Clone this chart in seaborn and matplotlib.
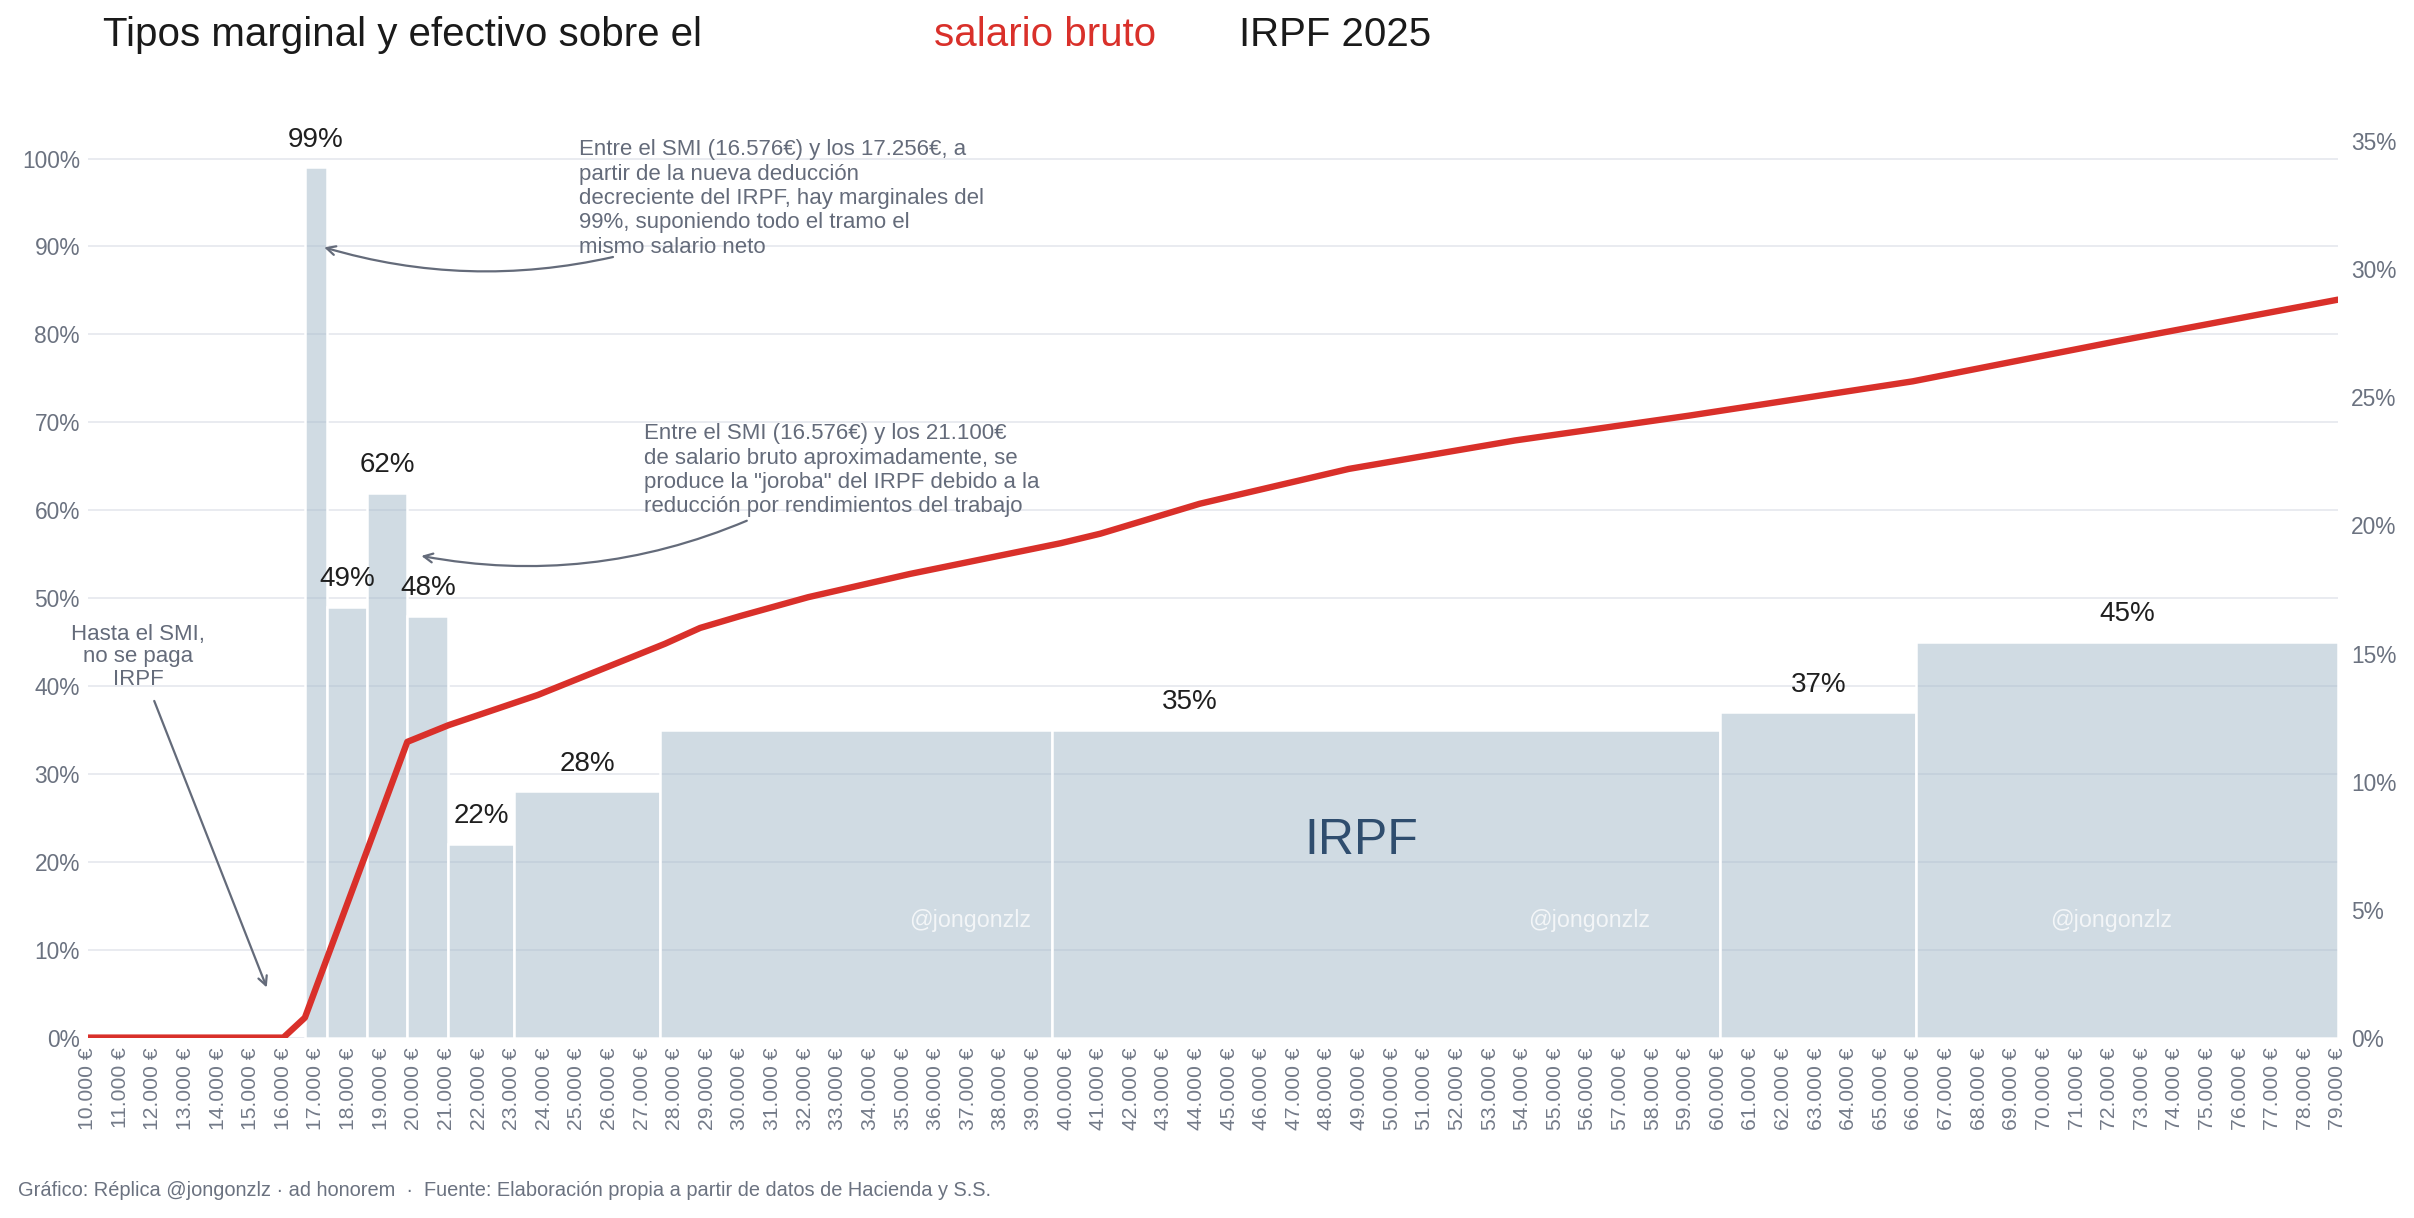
import matplotlib
matplotlib.use("Agg")
import matplotlib.pyplot as plt
import seaborn as sns
import numpy as np

# ---------------- data ----------------
bar_edges = [16664, 17329, 18574, 19801, 21058, 23073, 27550, 39570, 60060, 66070, 79000]
marginal = [0.99, 0.49, 0.62, 0.48, 0.22, 0.28, 0.35, 0.35, 0.37, 0.45]

salary = [10000, 11000, 12000, 13000, 14000, 15000, 16000, 16660, 18570, 19800,
          21060, 23800, 27700, 28780, 30000, 32090, 35220, 39840, 41050, 44100,
          48670, 53760, 59100, 65960, 72320, 79000]
effective = [0.0, 0.0, 0.0, 0.0, 0.0, 0.0, 0.0, 0.0078, 0.0732, 0.1155,
             0.1220, 0.1338, 0.1538, 0.1600, 0.1646, 0.1720, 0.1811, 0.1931, 0.1968, 0.2085,
             0.2221, 0.2332, 0.2429, 0.2563, 0.2722, 0.2882]

xtick_values = list(range(10000, 80000, 1000))
left_ticks = [0.0, 0.1, 0.2, 0.3, 0.4, 0.5, 0.6, 0.7, 0.8, 0.9, 1.0]
right_ticks = [0.0, 0.05, 0.10, 0.15, 0.20, 0.25, 0.30, 0.35]

title_parts = ["Tipos marginal y efectivo sobre el", "salario bruto", "IRPF 2025"]
note_smi = ["Hasta el SMI,", "no se paga", "IRPF"]
note_99 = ("Entre el SMI (16.576€) y los 17.256€, a\npartir de la nueva deducción\n"
           "decreciente del IRPF, hay marginales del\n99%, suponiendo todo el tramo el\n"
           "mismo salario neto")
note_joroba = ("Entre el SMI (16.576€) y los 21.100€\nde salario bruto aproximadamente, se\n"
               "produce la \"joroba\" del IRPF debido a la\nreducción por rendimientos del trabajo")
footer = ("Gráfico: Réplica @jongonzlz · ad honorem  ·  Fuente: Elaboración propia a partir "
          "de datos de Hacienda y S.S.")

# ---------------- style ----------------
sns.set_theme(style="white")
plt.rcParams["font.family"] = ["Liberation Sans", "DejaVu Sans"]

RED = "#d9302a"
GRAY = "#6b7280"
TICKGRAY = "#737a88"
NOTE = "#646b7a"
BAR = "#a3b8c9"
GRID = "#e5e8ed"

fig = plt.figure(figsize=(12.07, 6.09), dpi=200)
ax = fig.add_axes([0.03633, 0.1481, 0.93217, 0.7578])

YTOP = 1.05
RATIO = 0.3433

# bars (variable width) via histplot with weights
mids = [(bar_edges[i] + bar_edges[i + 1]) / 2 for i in range(len(marginal))]
sns.histplot(x=mids, weights=marginal, bins=bar_edges, stat="count", ax=ax,
             color=BAR, alpha=0.5, edgecolor="white", linewidth=0.9, zorder=2)

ax.set_xlim(10000, 79000)
ax.set_ylim(0, YTOP)
ax.set_xlabel("")
ax.set_ylabel("")
ax.set_xticks(xtick_values)
ax.set_xticklabels([f"{v // 1000}.000 €" for v in xtick_values], rotation=90,
                   fontsize=7.6, color=TICKGRAY)
ax.set_yticks(left_ticks)
ax.set_yticklabels([f"{int(round(t * 100))}%" for t in left_ticks], fontsize=8.2, color=GRAY)
ax.tick_params(axis="x", length=0, pad=3.6)
ax.tick_params(axis="y", length=0, pad=2.8)
ax.grid(axis="y", color=GRID, linewidth=0.6, zorder=0)
ax.grid(axis="x", visible=False)
ax.set_axisbelow(True)
for s in ax.spines.values():
    s.set_visible(False)

# bar labels (grouped by consecutive equal rate)
i = 0
while i < len(marginal):
    j = i
    while j + 1 < len(marginal) and marginal[j + 1] == marginal[i]:
        j += 1
    cx = (bar_edges[i] + bar_edges[j + 1]) / 2
    ax.annotate(f"{int(round(marginal[i] * 100))}%", xy=(cx, marginal[i]), xytext=(0, 10),
                textcoords="offset points", ha="center", va="center", fontsize=10,
                color="#1f1f1f", zorder=5)
    i = j + 1

# big IRPF label and watermarks
ax.text(49050, 0.224, "IRPF", ha="center", va="center", fontsize=18, color="#2f4d6e", zorder=4)
for wx in [37060, 56030, 72040]:
    ax.text(wx, 0.133, "@jongonzlz", ha="center", va="center", fontsize=8.4,
            color="white", alpha=0.75, zorder=4)

# annotations
for k, line in enumerate(note_smi):
    ax.annotate(line, xy=(11550, 0.459), xytext=(0, -8.1 * k), textcoords="offset points",
                ha="center", va="center", fontsize=8.0, color=NOTE, zorder=5)
ax.annotate("", xy=(15490, 0.057), xytext=(12040, 0.383),
            arrowprops=dict(arrowstyle="->", color=NOTE, lw=0.8, shrinkA=0, shrinkB=0,
                            mutation_scale=8))

ax.text(25070, 1.022, note_99, ha="left", va="top", fontsize=8.0, color=NOTE,
        linespacing=1.21, zorder=5)
ax.annotate("", xy=(17250, 0.899), xytext=(26108, 0.888),
            arrowprops=dict(arrowstyle="->", color=NOTE, lw=0.8, shrinkA=0, shrinkB=0,
                            mutation_scale=8, connectionstyle="arc3,rad=-0.13"))

ax.text(27060, 0.699, note_joroba, ha="left", va="top", fontsize=8.0, color=NOTE,
        linespacing=1.21, zorder=5)
ax.annotate("", xy=(20230, 0.548), xytext=(30210, 0.588),
            arrowprops=dict(arrowstyle="->", color=NOTE, lw=0.8, shrinkA=0, shrinkB=0,
                            mutation_scale=8, connectionstyle="arc3,rad=-0.15"))

# effective rate on right axis
ax2 = ax.twinx()
sns.lineplot(x=salary, y=effective, ax=ax2, color=RED, linewidth=2.3, zorder=6)
ax2.set_xlim(10000, 79000)
ax2.set_ylim(0, YTOP * RATIO)
ax2.set_ylabel("")
ax2.set_yticks(right_ticks)
ax2.set_yticklabels([f"{int(round(t * 100))}%" for t in right_ticks], fontsize=8.2, color=GRAY)
ax2.tick_params(axis="y", length=0, pad=4.7)
ax2.grid(False)
for s in ax2.spines.values():
    s.set_visible(False)

# title
ty = 1 - 46 / 1218
fig.text(103 / 2414, ty, title_parts[0], ha="left", va="baseline", fontsize=14.5, color="#1a1a1a")
fig.text(934 / 2414, ty, title_parts[1], ha="left", va="baseline", fontsize=14.5, color=RED)
fig.text(1239 / 2414, ty, title_parts[2], ha="left", va="baseline", fontsize=14.5, color="#1a1a1a")

# footer
fig.text(18.5 / 2414, 1 - 1196 / 1218, footer, ha="left", va="baseline", fontsize=7.2, color=GRAY)

fig.savefig("out.png", dpi=200)
